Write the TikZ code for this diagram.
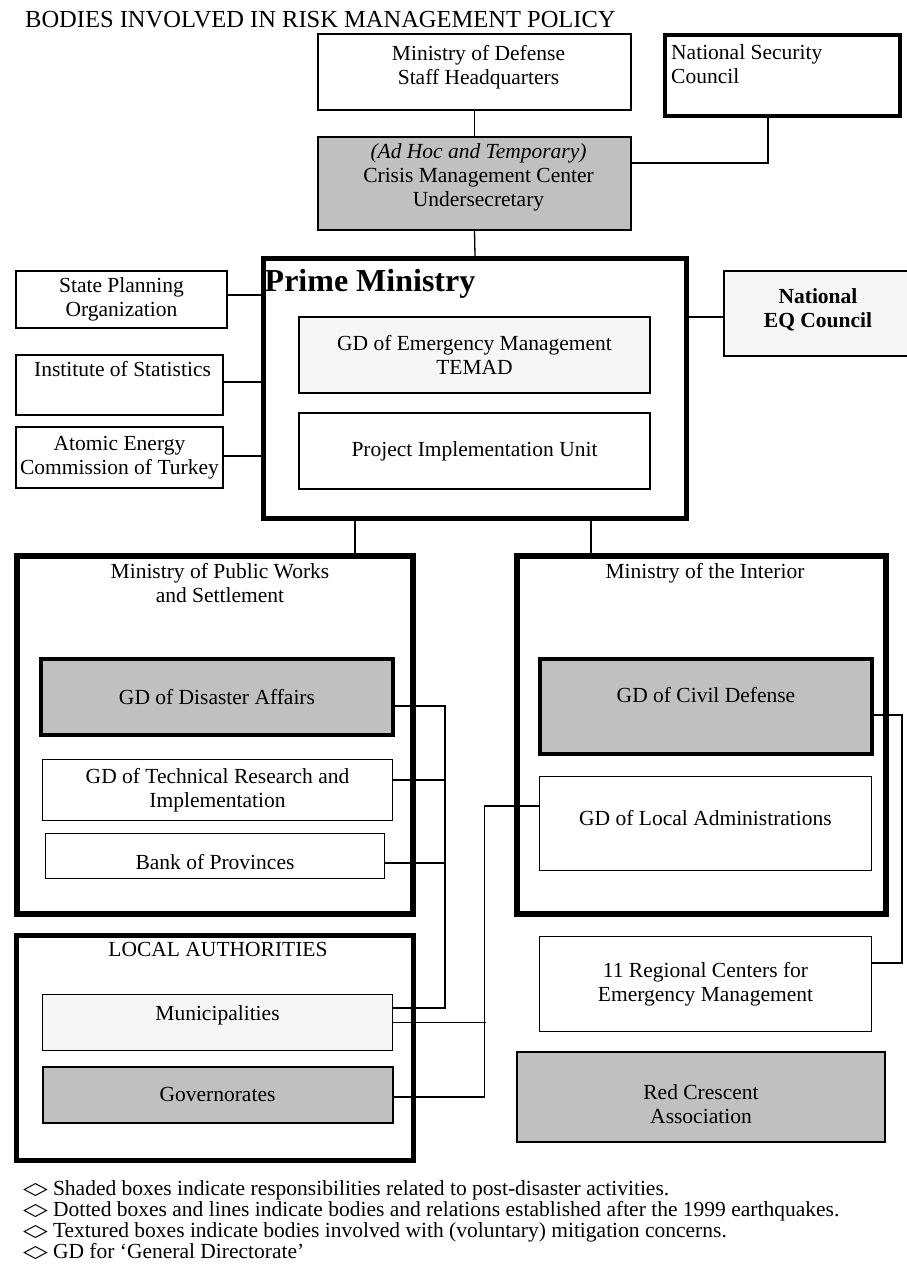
\documentclass[tikz,border=0pt]{standalone}
\usepackage{fontspec}
\setmainfont{Liberation Serif}
\newfontfamily\symfont{DejaVu Sans}
\definecolor{boxshade}{RGB}{192,192,192}
\definecolor{boxtexture}{RGB}{246,246,246}
\newcommand{\bodysize}{\fontsize{21.5}{24}\selectfont}
\newcommand{\legsym}{\raisebox{0.5pt}{\scalebox{1.5}[0.8]{\symfont ◇}}\hspace{5pt}}

\begin{document}
\begin{tikzpicture}[x=1pt, y=-1pt,
  box/.style={draw, rectangle, inner sep=0pt, align=center, font=\bodysize, line width=1.3pt},
  shaded/.style={fill=boxshade},
  textured/.style={fill=boxtexture},
  lbl/.style={inner sep=0pt, align=center, font=\bodysize},
  link/.style={line width=1.3pt},
  legend/.style={inner sep=0pt, anchor=base west, font=\bodysize},
]
\fill[white] (0,0) rectangle (906,1267);
\path[use as bounding box] (0,0) rectangle (906,1267);

\node[inner sep=0pt, anchor=base west, font=\fontsize{24.5}{28}\selectfont] (title) at (25,27) {BODIES INVOLVED IN RISK MANAGEMENT POLICY};

% top level
\node[box, minimum width=313pt, minimum height=76pt,
  label={[lbl, anchor=north, xshift=4pt, yshift=-11.5pt]north:{Ministry of Defense\\Staff Headquarters}}] (mod) at (474.5,72) {};
\node[box, line width=4pt, minimum width=235pt, minimum height=81pt,
  label={[lbl, align=left, anchor=north west, xshift=8pt, yshift=-11pt]north west:{National Security\\Council}}] (nsc) at (782.5,75.5) {};
\node[box, shaded, minimum width=313pt, minimum height=93pt,
  label={[lbl, anchor=north, xshift=4pt, yshift=-7pt]north:{\textit{(Ad Hoc and Temporary)}\\Crisis Management Center\\Undersecretary}}] (cmc) at (474.5,183.5) {};

% prime ministry
\node[box, line width=5pt, minimum width=423pt, minimum height=260pt,
  label={[inner sep=0pt, anchor=north west, xshift=3.5pt, yshift=-13.5pt, font=\fontsize{32}{35}\selectfont\bfseries]north west:Prime Ministry}] (pm) at (475,388.5) {};
\node[box, textured, minimum width=351pt, minimum height=76pt] (temad) at (474.5,355) {GD of Emergency Management\\TEMAD};
\node[box, minimum width=351pt, minimum height=76pt] (piu) at (474.5,451) {Project Implementation Unit};

\node[box, minimum width=211pt, minimum height=57pt] (spo) at (121.5,299.5) {State Planning\\Organization};
\node[box, minimum width=207pt, minimum height=60pt,
  label={[lbl, anchor=north, xshift=3pt, yshift=-7pt]north:Institute of Statistics}] (ios) at (119.5,385) {};
\node[box, minimum width=207pt, minimum height=61pt] (aec) at (119.5,457.5) {Atomic Energy\\Commission of Turkey};
\node[box, textured, minimum width=188pt, minimum height=85pt,
  label={[lbl, yshift=4pt, font=\bodysize\bfseries]center:{National\\EQ Council}}] (neq) at (818,313.5) {};

% ministries
\node[box, line width=5.5pt, minimum width=396pt, minimum height=358pt,
  label={[lbl, anchor=north, xshift=5pt, yshift=-10pt]north:{Ministry of Public Works\\and Settlement}}] (pw) at (215,735) {};
\node[box, line width=5.5pt, minimum width=369pt, minimum height=358pt,
  label={[lbl, anchor=north, xshift=3.5pt, yshift=-10pt]north:Ministry of the Interior}] (moi) at (701.5,735) {};

\node[box, shaded, line width=4pt, minimum width=352pt, minimum height=76pt] (gda) at (217,697) {GD of Disaster Affairs};
\node[box, minimum width=350pt, minimum height=61pt] (gdt) at (217.5,790) {GD of Technical Research and\\Implementation};
\node[box, minimum width=339pt, minimum height=45pt,
  label={[lbl, yshift=-6pt]center:Bank of Provinces}] (bop) at (215,856) {};

\node[box, shaded, line width=4pt, minimum width=332pt, minimum height=95pt,
  label={[lbl, yshift=11.5pt]center:GD of Civil Defense}] (gdc) at (706,706.5) {};
\node[box, minimum width=332pt, minimum height=94pt,
  label={[lbl, yshift=5pt]center:GD of Local Administrations}] (gdl) at (705.5,823.5) {};

% local authorities
\node[box, line width=5pt, minimum width=397pt, minimum height=225pt,
  label={[lbl, anchor=north, xshift=3pt, yshift=-9.5pt]north:LOCAL AUTHORITIES}] (la) at (215,1048) {};
\node[box, textured, minimum width=350pt, minimum height=56pt,
  label={[lbl, yshift=7pt]center:Municipalities}] (muni) at (217.5,1022.5) {};
\node[box, shaded, line width=2pt, minimum width=350pt, minimum height=56pt] (gov) at (217.5,1094.5) {Governorates};

\node[box, minimum width=332pt, minimum height=95pt] (rcem) at (705.5,984) {11 Regional Centers for\\Emergency Management};
\node[box, shaded, line width=2.5pt, minimum width=368pt, minimum height=90pt,
  label={[lbl, yshift=-7pt]center:{Red Crescent\\Association}}] (rc) at (701,1097) {};

% connectors
\draw[link] (mod.south) -- (cmc.north);
\draw[link] ([xshift=-14.5pt]nsc.south) |- ([yshift=20.5pt]cmc.east);
\draw[link] (cmc.south) -- (pm.north);
\draw[link] ([yshift=4.5pt]spo.east) -- ++(36.5,0);
\draw[link] ([yshift=3pt]ios.east) -- ++(40.5,0);
\draw[link] ([yshift=1.5pt]aec.east) -- ++(40.5,0);
\draw[link] ([yshift=-3.5pt]neq.west) -- ++(-37.5,0);
\draw[link] ([xshift=-120pt]pm.south) -- ++(0,37.5);
\draw[link] ([xshift=116pt]pm.south) -- ++(0,37.5);
\draw[link] ([yshift=-9pt]gda.east) -- ++(50,0) |- ([yshift=14.5pt]muni.east);
\draw[link] ([yshift=10pt]gdt.east) -- ++(50.5,0);
\draw[link] ([yshift=-7pt]bop.east) -- ++(58.5,0);
\draw[link] ([yshift=17.5pt]gdl.west) -- ++(-54.5,0) |- ([yshift=-2.5pt]gov.east);
\draw[link] (muni.east) -- ++(92.5,0);
\draw[link] ([yshift=-8.5pt]gdc.east) -- ++(28,0) |- ([yshift=21pt]rcem.east);

% legend
\node[legend] (leg1) at (23,1195) {\legsym Shaded boxes indicate responsibilities related to post-disaster activities.};
\node[legend] (leg2) at (23,1216) {\legsym Dotted boxes and lines indicate bodies and relations established after the 1999 earthquakes.};
\node[legend] (leg3) at (23,1237) {\legsym Textured boxes indicate bodies involved with (voluntary) mitigation concerns.};
\node[legend] (leg4) at (23,1258) {\legsym GD for `General Directorate'};
\end{tikzpicture}
\end{document}
